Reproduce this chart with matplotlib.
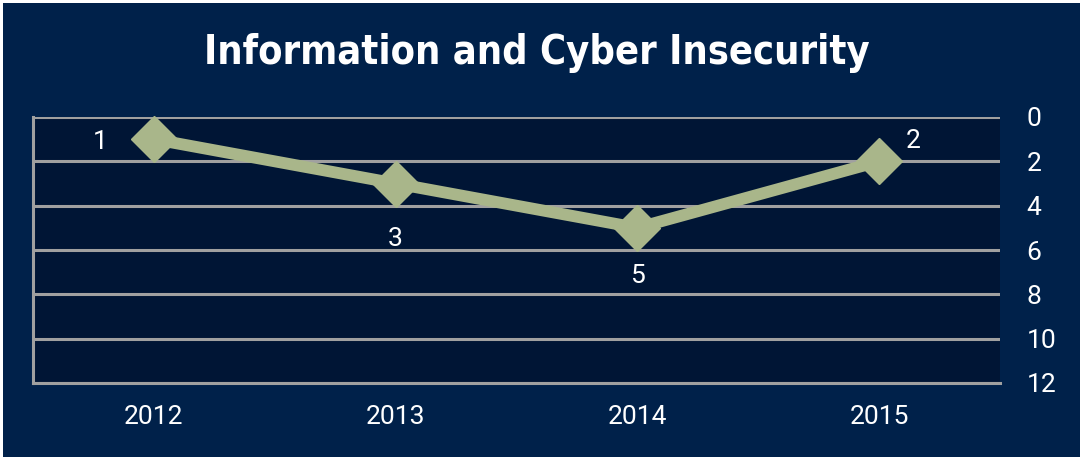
import matplotlib
matplotlib.use("Agg")
import matplotlib.pyplot as plt
from matplotlib.patches import Rectangle

years = ["2012", "2013", "2014", "2015"]
ranks = [1, 3, 5, 2]
yticks = [0, 2, 4, 6, 8, 10, 12]
title = "Information and Cyber Insecurity"
label_offsets = [(-54, -3), (0, -55), (0, -48), (34, 20)]  # pixels

FIG_BG = "#00214a"
AX_BG = "#001535"
GRID = "#a0a0a0"
LINE = "#a9b68a"

fig = plt.figure(figsize=(10.8, 4.57), dpi=100)
fig.patch.set_facecolor("white")
fig.patches.append(Rectangle((3/1080, 0), 1 - 3/1080, 1 - 3/457, transform=fig.transFigure,
                             facecolor=FIG_BG, edgecolor="none", zorder=-10))

ax = fig.add_axes([33/1080, 1 - 383/457, (1000 - 33)/1080, (383 - 117)/457])
ax.set_facecolor(AX_BG)
x = list(range(len(years)))
ax.plot(x, ranks, color=LINE, lw=8.5, marker="D", ms=23.5, mfc=LINE, mec=LINE, zorder=5,
        clip_on=False)
ax.set_xlim(-0.5, len(years) - 0.5)
ax.set_ylim(12, 0)
ax.set_yticks(yticks)
ax.set_xticks(x)
ax.set_xticklabels(years)
ax.yaxis.tick_right()
ax.grid(axis="y", color=GRID, lw=2.2, zorder=1)
ax.grid(axis="x", visible=False)
ax.set_axisbelow(True)
for s in ["top", "right"]:
    ax.spines[s].set_visible(False)
for s in ["left", "bottom"]:
    ax.spines[s].set_color(GRID)
    ax.spines[s].set_linewidth(2.2)
ax.tick_params(axis="both", length=0, labelcolor="white", labelsize=19)
ax.tick_params(axis="y", pad=19)
ax.tick_params(axis="x", pad=16)
for lab in ax.get_xticklabels() + ax.get_yticklabels():
    lab.set_fontfamily("Roboto")

for xi, v, (dx, dy) in zip(x, ranks, label_offsets):
    ax.annotate(str(v), (xi, v), xytext=(dx, dy), textcoords="offset pixels",
                ha="center", va="center", color="white", fontsize=19, family="Roboto")

fig.text(537/1080, 1 - 53/457, title, ha="center", va="center", color="white",
         fontsize=28.5, fontweight="bold", fontstretch="condensed",
         family=["DejaVu Sans"])

fig.savefig("out.png", dpi=100, facecolor=fig.get_facecolor())
